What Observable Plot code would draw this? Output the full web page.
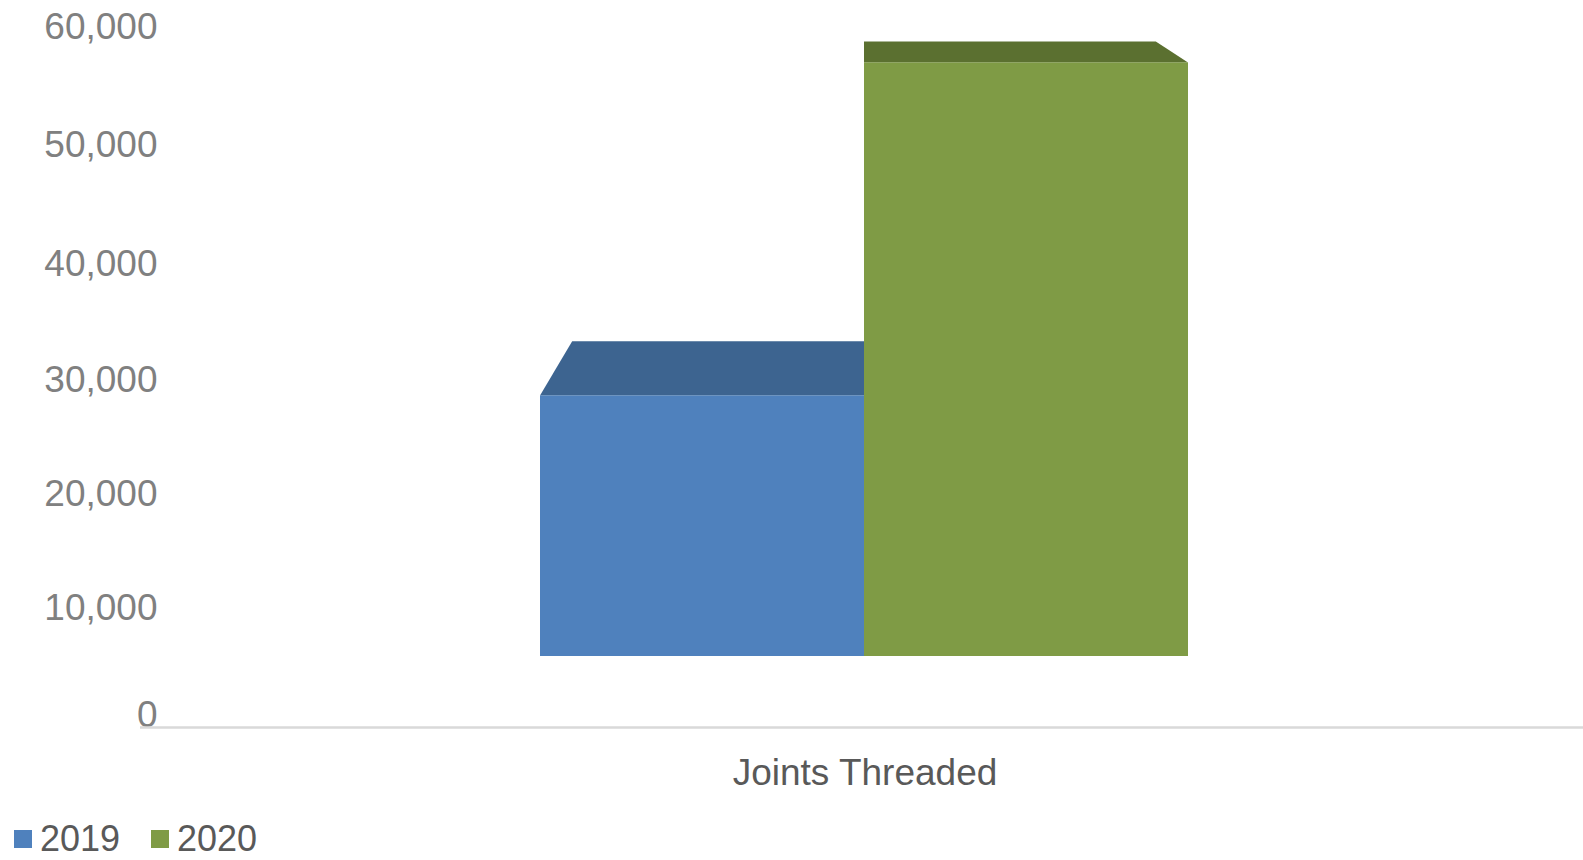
<!DOCTYPE html>
<html><head><meta charset="utf-8">
<script src="https://cdn.jsdelivr.net/npm/d3@7"></script>
<script src="https://cdn.jsdelivr.net/npm/@observablehq/plot@0.6"></script>
<style>
body{margin:0;background:#fff;font-family:"Liberation Sans",Arial,sans-serif;overflow:hidden}
#chart{height:824px}
#legend{position:relative;height:36px;}
.item{position:absolute;top:0px;height:30px;display:flex;align-items:center;font-size:36px;color:#595959;line-height:30px}
.sw{width:18px;height:18px;margin-right:8px;flex:none}
</style></head><body>
<div id="chart"></div>
<div id="legend"></div>
<script>
// ---- data ----
const categories = ["Joints Threaded"];
const years = ["2019", "2020"];
const values = [28650, 57000];
const yTicks = [0, 10000, 20000, 30000, 40000, 50000, 60000];
// ---- styles ----
const frontColors = ["#4f81bd", "#7f9b45"];
const topColors = ["#3d6490", "#5b7030"];
// perspective-compressed tick positions of the 3D value axis (px)
const yRange = [715, 608, 494, 380, 264, 145, 27];

const data = years.map((y, i) => ({category: categories[0], year: y, value: values[i]}));

// pseudo-3D top faces (perspective toward a vanishing point above the group)
function topFaces(index, scales) {
  const s = (scales && typeof scales.x === "function") ? scales : arguments[0];
  const x = s.x, y = s.y;
  const bw = (typeof x.bandwidth === "function") ? x.bandwidth() : (x(years[1]) - x(years[0]));
  const vpx = x(years[1]), vpy = -149, k = 0.9007;
  const back = ([px, py]) => [vpx + (px - vpx) * k, vpy + (py - vpy) * k];
  const g = d3.create("svg:g");
  data.forEach((d, i) => {
    const x0 = x(d.year), x1 = x0 + bw, yf = y(d.value);
    const pts = [[x0, yf], [x1, yf], back([x1, yf]), back([x0, yf])];
    g.append("path").attr("d", "M" + pts.map(p => p.join(",")).join("L") + "Z").attr("fill", topColors[i]);
  });
  return g.node();
}

const chart = Plot.plot({
  width: 1583,
  height: 824,
  marginTop: 27,
  marginBottom: 109,
  marginLeft: 140,
  marginRight: 0,
  style: {fontFamily: "'Liberation Sans', Arial, sans-serif", fontSize: "37px", color: "#808080", background: "#fff"},
  x: {domain: years, axis: null, paddingInner: 0, paddingOuter: 1.225, align: 0.503},
  y: {type: "linear", domain: yTicks, range: yRange, ticks: yTicks, tickFormat: d3.format(","), tickSize: 0, tickPadding: -17, label: null},
  color: {domain: years, range: frontColors},
  marks: [
    Plot.ruleY([0], {dy: 12, stroke: "#d9d9d9", strokeWidth: 2.5}),
    topFaces,
    Plot.barY(data, {x: "year", y: "value", fill: "year", insetBottom: 59}),
    Plot.text(categories, {text: d => d, frameAnchor: "bottom", dy: 69, dx: 3, fill: "#595959", fontSize: 37})
  ]
});
document.getElementById("chart").appendChild(chart);

const legend = document.getElementById("legend");
const legendX = [14, 151];
years.forEach((y, i) => {
  const it = document.createElement("div");
  it.className = "item";
  it.style.left = legendX[i] + "px";
  const sw = document.createElement("span");
  sw.className = "sw";
  sw.style.background = frontColors[i];
  it.appendChild(sw);
  it.appendChild(document.createTextNode(y));
  legend.appendChild(it);
});
</script>
</body></html>
